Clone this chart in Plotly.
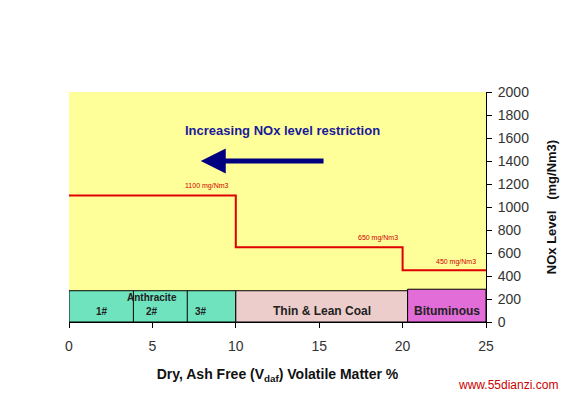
import plotly.graph_objects as go

# NOx limit step data
vdaf_steps = [0, 10, 20, 25]
nox_limits = [1100, 650, 450, 450]
limit_labels = ["1100 mg/Nm3", "650 mg/Nm3", "450 mg/Nm3"]
limit_label_x = [8.3, 18.5, 23.2]
limit_label_y = [1180, 730, 520]

# Coal classes along the Vdaf axis
coal_names = ["Anthracite", "Thin & Lean Coal", "Bituminous"]
coal_x0 = [0, 10, 20.3]
coal_x1 = [10, 20.3, 25]
coal_top = [272, 272, 285]
coal_colors = ["#6EE3BE", "#EDCDCB", "#E26CD8"]
anthracite_div = [3.86, 7.09]
anthracite_sub = ["1#", "2#", "3#"]
anthracite_sub_x = [2.0, 5.0, 7.9]

x_ticks = [0, 5, 10, 15, 20, 25]
y_ticks = [0, 200, 400, 600, 800, 1000, 1200, 1400, 1600, 1800, 2000]

fig = go.Figure()

shapes = []
for x0, x1, top, col in zip(coal_x0, coal_x1, coal_top, coal_colors):
    shapes.append(dict(type="rect", xref="x", yref="y", x0=x0, x1=x1, y0=0, y1=top,
                       fillcolor=col, line=dict(color="black", width=1), layer="above"))
for d in anthracite_div:
    shapes.append(dict(type="line", xref="x", yref="y", x0=d, x1=d, y0=0, y1=coal_top[0],
                       line=dict(color="black", width=1), layer="above"))

fig.add_trace(go.Scatter(x=vdaf_steps, y=nox_limits, mode="lines", line_shape="hv",
                         line=dict(color="#E00000", width=2), hoverinfo="skip", showlegend=False))

ann = []
for t, x, y in zip(limit_labels, limit_label_x, limit_label_y):
    ann.append(dict(x=x, y=y, xref="x", yref="y", text=t, showarrow=False,
                    font=dict(family="Arial", size=7, color="#D00000"), xanchor="center"))

ann.append(dict(x=(coal_x0[0] + coal_x1[0]) / 2, y=215, xref="x", yref="y", text="<b>Anthracite</b>",
                showarrow=False, font=dict(family="Arial", size=10, color="#222")))
for t, x in zip(anthracite_sub, anthracite_sub_x):
    ann.append(dict(x=x, y=90, xref="x", yref="y", text="<b>" + t + "</b>", showarrow=False,
                    font=dict(family="Arial", size=10, color="#222")))
ann.append(dict(x=(coal_x0[1] + coal_x1[1]) / 2, y=95, xref="x", yref="y", text="<b>" + coal_names[1] + "</b>",
                showarrow=False, font=dict(family="Arial", size=12, color="#222")))
ann.append(dict(x=(coal_x0[2] + coal_x1[2]) / 2, y=95, xref="x", yref="y", text="<b>" + coal_names[2] + "</b>",
                showarrow=False, font=dict(family="Arial", size=12, color="#222")))

ann.append(dict(x=12.8, y=1665, xref="x", yref="y", text="<b>Increasing NOx level restriction</b>",
                showarrow=False, font=dict(family="Arial", size=13, color="#1A1A99")))
ann.append(dict(x=7.9, y=1400, ax=15.35, ay=1400, xref="x", yref="y", axref="x", ayref="y",
                text="", showarrow=True, arrowhead=2, arrowsize=1, arrowwidth=5, arrowcolor="#000080"))

ann.append(dict(x=1.053, y=-0.274, xref="paper", yref="paper", text="www.55dianzi.com", showarrow=False,
                xanchor="center", yanchor="middle", font=dict(family="Arial", size=12, color="#CC0000")))

fig.update_layout(
    width=561, height=390,
    margin=dict(l=61, r=83, t=84, b=76),
    paper_bgcolor="white", plot_bgcolor="#FFFF99",
    shapes=shapes, annotations=ann,
    xaxis=dict(range=[0, 25], tickvals=x_ticks, showgrid=False, zeroline=False,
               ticks="outside", ticklen=5, tickcolor="black", showline=True, linecolor="black",
               ticklabelstandoff=6,
               tickfont=dict(family="Arial", size=14, color="#333"),
               title=dict(text="<b>Dry, Ash Free (V<sub>daf</sub>) Volatile Matter %</b>",
                          font=dict(family="Arial", size=14, color="#111"), standoff=16)),
    yaxis=dict(range=[0, 2000], tickvals=y_ticks, side="right", showgrid=False, zeroline=False,
               ticks="outside", ticklen=5, tickcolor="black", showline=True, linecolor="black",
               ticklabelstandoff=3,
               tickfont=dict(family="Arial", size=14, color="#333"),
               title=dict(text="<b>NOx Level   (mg/Nm3)</b>",
                          font=dict(family="Arial", size=13, color="#111"), standoff=18)),
)

fig.write_html("out.html")
